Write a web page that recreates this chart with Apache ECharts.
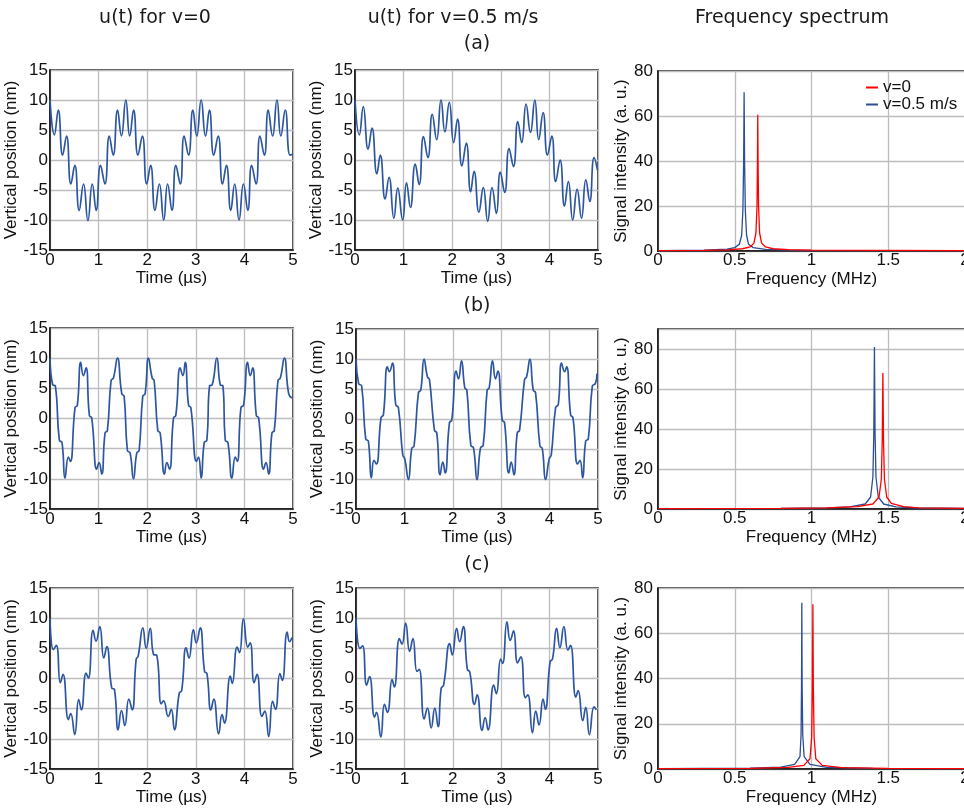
<!DOCTYPE html>
<html>
<head>
<meta charset="utf-8">
<script src="https://cdn.jsdelivr.net/npm/echarts@6/dist/echarts.min.js"></script>
<style>
  html, body { margin: 0; padding: 0; background: #fff; }
  #chart { width: 964px; height: 809px; }
</style>
</head>
<body>
<div id="chart"></div>
<script>
// ---- Displacement u(t) in nm, as [time (µs), u (nm)] at turning points of the trace ----
// Case (a)
const uA_still = [[0,10],[0.09,4.2],[0.17,8.3],[0.26,0.8],[0.34,4.0],[0.43,-4.0],[0.51,-0.9],[0.60,-8.4],[0.69,-4.0],[0.78,-10.1],[0.87,-4.0],[0.95,-8.4],[1.04,-0.9],[1.13,-4.0],[1.22,4.0],[1.30,0.8],[1.39,8.3],[1.47,4.0],[1.56,10],[1.64,4.0],[1.72,8.3],[1.81,0.8],[1.90,4.0],[1.99,-4.0],[2.07,-0.9],[2.16,-8.4],[2.25,-4.0],[2.34,-10],[2.42,-4.0],[2.51,-8.4],[2.59,-0.9],[2.68,-4.0],[2.76,4.0],[2.85,0.8],[2.94,8.3],[3.02,4.0],[3.11,10],[3.20,4.0],[3.28,8.3],[3.37,0.8],[3.46,4.0],[3.55,-4.0],[3.63,-0.9],[3.72,-8.4],[3.80,-4.0],[3.89,-10],[3.98,-4.0],[4.07,-8.4],[4.15,-0.9],[4.24,-4.0],[4.32,4.0],[4.41,0.8],[4.49,8.3],[4.58,4.0],[4.67,10],[4.75,4.0],[4.84,8.3],[4.94,0.8],[5.0,1.0]];
const uA_moving = [[0,10],[0.09,4.2],[0.17,8.9],[0.27,1.8],[0.35,5.3],[0.45,-2.3],[0.52,0.8],[0.62,-6.5],[0.70,-2.9],[0.80,-9.7],[0.88,-4.7],[0.98,-10],[1.06,-3.8],[1.14,-7.9],[1.24,-0.7],[1.32,-4.1],[1.41,3.9],[1.50,0.4],[1.59,7.6],[1.68,3.4],[1.77,10],[1.85,4.7],[1.94,9.6],[2.03,2.9],[2.11,6.8],[2.20,-1.0],[2.29,2.8],[2.38,-5.3],[2.45,-1.9],[2.55,-8.7],[2.64,-4.6],[2.73,-10.2],[2.82,-4.6],[2.91,-8.9],[2.99,-2.0],[3.08,-5.4],[3.17,1.9],[3.26,-1.1],[3.35,6.4],[3.43,2.9],[3.52,9.3],[3.61,4.6],[3.70,10],[3.78,3.4],[3.87,7.9],[3.96,0.8],[4.05,4.0],[4.13,-3.6],[4.22,0.0],[4.31,-7.7],[4.39,-3.6],[4.48,-10],[4.57,-4.9],[4.66,-9.7],[4.75,-3.3],[4.83,-6.9],[4.92,0.4],[4.99,-1.7]];
// Case (b)
const uB_still = [[0,10],[0.055,5.6],[0.11,5.4],[0.192,-3.6],[0.247,-4.0],[0.309,-9.9],[0.378,-6.4],[0.419,-7.1],[0.515,1.8],[0.563,2.2],[0.632,9.3],[0.687,7.1],[0.742,8.4],[0.81,0.5],[0.859,0.1],[0.962,-8.4],[1.01,-7.3],[1.065,-9.2],[1.133,-2.4],[1.181,-2.0],[1.257,6.3],[1.305,6.7],[1.387,10],[1.477,4.1],[1.525,3.7],[1.593,-5.3],[1.648,-5.7],[1.717,-10],[1.786,-5.7],[1.834,-5.3],[1.909,3.7],[1.957,4.1],[2.026,10],[2.102,6.7],[2.143,6.3],[2.218,-2.0],[2.266,-2.4],[2.356,-9.2],[2.404,-7.3],[2.459,-8.4],[2.541,0.1],[2.589,0.5],[2.679,8.4],[2.734,7.1],[2.782,9.3],[2.85,2.2],[2.898,1.8],[3.015,-7.1],[3.056,-6.4],[3.111,-9.9],[3.173,-4.0],[3.228,-3.6],[3.283,5.4],[3.338,5.6],[3.434,10],[3.503,5.6],[3.558,5.4],[3.606,-3.6],[3.661,-4.0],[3.743,-9.9],[3.812,-6.4],[3.853,-7.1],[3.929,1.8],[3.984,2.2],[4.066,9.3],[4.121,7.1],[4.169,8.4],[4.245,0.5],[4.293,0.1],[4.396,-8.4],[4.444,-7.3],[4.499,-9.2],[4.567,-2.4],[4.615,-2.0],[4.691,6.3],[4.739,6.7],[4.821,10],[4.911,4.1],[4.979,3.4]];
const uB_moving = [[0,10],[0.055,5.9],[0.117,5.5],[0.2,-3.3],[0.255,-3.7],[0.317,-9.8],[0.372,-6.9],[0.421,-7.5],[0.517,0.2],[0.566,0.7],[0.648,8.7],[0.69,7.9],[0.752,9.3],[0.821,2.4],[0.876,1.9],[0.966,-6.0],[1.007,-6.6],[1.083,-10.1],[1.152,-4.9],[1.2,-4.5],[1.29,4.4],[1.338,4.8],[1.407,10],[1.476,7.0],[1.517,6.6],[1.621,-1.9],[1.669,-2.3],[1.738,-9.3],[1.793,-7.2],[1.841,-9.0],[1.931,-0.6],[1.979,-0.2],[2.069,8.0],[2.117,6.7],[2.179,9.7],[2.248,5.2],[2.29,4.8],[2.372,-4.4],[2.428,-4.8],[2.5,-10.1],[2.572,-4.8],[2.628,-4.4],[2.71,4.8],[2.752,5.2],[2.821,9.7],[2.883,6.7],[2.931,8.0],[3.021,-0.2],[3.069,-0.6],[3.159,-9.0],[3.207,-7.2],[3.262,-9.3],[3.331,-2.3],[3.379,-1.9],[3.483,6.6],[3.524,7.0],[3.593,10],[3.662,4.8],[3.71,4.4],[3.8,-4.5],[3.848,-4.9],[3.917,-10.1],[3.993,-6.6],[4.034,-6.0],[4.124,1.9],[4.179,2.4],[4.248,9.3],[4.31,7.9],[4.352,8.7],[4.434,0.7],[4.483,0.2],[4.579,-7.5],[4.628,-6.9],[4.683,-9.8],[4.745,-3.7],[4.8,-3.3],[4.883,5.5],[4.945,5.9],[4.98,7.6]];
// Case (c)
const uC_still = [[0,10],[0.069,4.8],[0.131,5.5],[0.213,-0.7],[0.268,0.7],[0.378,-6.8],[0.426,-5.8],[0.509,-9.3],[0.591,-3.5],[0.646,-5.2],[0.742,0.9],[0.79,0.05],[0.887,8.0],[0.948,6.2],[1.024,8.6],[1.107,3.4],[1.168,5.3],[1.271,-1.6],[1.326,-1.8],[1.402,-8.5],[1.471,-5.3],[1.54,-7.8],[1.622,-3.4],[1.691,-5.2],[1.773,3.2],[1.814,3.7],[1.911,8.4],[1.979,5.0],[2.062,8.3],[2.131,4.0],[2.199,3.8],[2.289,-4.2],[2.337,-3.7],[2.433,-6.3],[2.495,-5.1],[2.56,-8.5],[2.66,-2.4],[2.71,-2.0],[2.80,5.1],[2.86,3.4],[2.95,8.1],[3.01,5.9],[3.09,8.4],[3.18,1.2],[3.23,0.8],[3.31,-5.2],[3.37,-3.4],[3.47,-9.2],[3.54,-6.0],[3.59,-7.4],[3.71,0.4],[3.75,-0.8],[3.85,5.2],[3.90,4.3],[3.98,9.9],[4.07,5.2],[4.12,5.9],[4.20,-0.7],[4.26,0.7],[4.36,-6.3],[4.42,-5.4],[4.50,-9.6],[4.58,-3.8],[4.64,-5.1],[4.73,0.8],[4.78,-0.3],[4.88,7.7],[4.93,6.1],[4.98,6.8]];
const uC_moving = [[0,10],[0.082,5.0],[0.137,5.4],[0.219,-1.1],[0.28,0.3],[0.383,-6.4],[0.424,-5.6],[0.513,-9.7],[0.588,-4.3],[0.65,-5.6],[0.746,-0.2],[0.793,-1.4],[0.896,6.6],[0.951,5.7],[1.026,9.2],[1.108,4.5],[1.176,6.6],[1.259,1.2],[1.306,1.5],[1.409,-6.7],[1.477,-4.9],[1.553,-8.2],[1.628,-4.9],[1.696,-8.0],[1.76,-1.6],[1.81,-1.1],[1.936,5.8],[1.99,3.9],[2.079,8.3],[2.141,6.1],[2.216,8.6],[2.30,1.5],[2.35,1.1],[2.449,-4.3],[2.503,-2.7],[2.606,-8.6],[2.668,-6.5],[2.729,-8.5],[2.845,-1.1],[2.90,-2.5],[2.989,3.2],[3.03,2.5],[3.119,9.4],[3.187,6.3],[3.256,7.9],[3.338,2.6],[3.406,3.6],[3.50,-3.2],[3.55,-2.7],[3.646,-9.0],[3.714,-5.4],[3.782,-7.7],[3.865,-3.4],[3.912,-5.1],[4.01,2.8],[4.06,3.2],[4.145,8.3],[4.213,5.1],[4.295,8.6],[4.378,4.7],[4.432,5.5],[4.542,-3.1],[4.59,-2.0],[4.685,-7.0],[4.747,-4.8],[4.822,-9.3],[4.918,-4.7],[4.966,-5.2]];

// ---- Spectra, as [frequency (MHz), intensity (a. u.)] ----
const specA_still = [[0,0.2],[0.3,0.3],[0.45,0.5],[0.55,1.0],[0.6,1.8],[0.625,3.5],[0.638,8],[0.645,20],[0.648,40],[0.65,60.5],[0.652,40],[0.655,20],[0.662,8],[0.675,3.5],[0.7,1.8],[0.75,1.0],[0.85,0.6],[1,0.4],[1.5,0.25],[2,0.2]];
const specA_moving = [[0,0.2],[0.3,0.35],[0.45,0.8],[0.5,1.5],[0.53,3],[0.545,7],[0.553,18],[0.558,40],[0.561,70.5],[0.564,40],[0.569,18],[0.577,7],[0.59,3],[0.62,1.5],[0.7,0.7],[0.85,0.4],[1,0.3],[1.5,0.2],[2,0.15]];
const specB_still = [[0,0.15],[0.8,0.3],[1.1,0.6],[1.3,1.2],[1.4,2.5],[1.44,6],[1.455,15],[1.461,35],[1.465,68],[1.469,35],[1.475,15],[1.49,6],[1.52,2.8],[1.6,1.2],[1.7,0.6],[2,0.3]];
const specB_moving = [[0,0.15],[0.8,0.3],[1.1,0.6],[1.25,1.1],[1.35,2.5],[1.385,6],[1.4,16],[1.406,38],[1.41,81],[1.414,38],[1.42,16],[1.435,6],[1.47,2.5],[1.55,1.1],[1.7,0.5],[2,0.25]];
const specC_still = [[0,0.15],[0.6,0.3],[0.85,0.7],[0.95,1.6],[0.99,4.5],[1.001,14],[1.006,36],[1.009,72.8],[1.012,36],[1.017,14],[1.028,4.5],[1.07,1.6],[1.2,0.6],[1.5,0.3],[2,0.2]];
const specC_moving = [[0,0.15],[0.6,0.35],[0.8,0.8],[0.89,2],[0.925,5.5],[0.932,15],[0.935,37],[0.937,73.5],[0.939,37],[0.943,15],[0.952,5.5],[0.99,2],[1.1,0.7],[1.4,0.3],[2,0.2]];

// ---- Axis ranges and texts ----
const timeRange = [0, 5, 1];
const posRange = [-15, 15, 5];
const freqRange = [0, 2, 0.5];
const intensityMax = [80, 90, 80];
const columnTitles = ['u(t) for v=0', 'u(t) for v=0.5 m/s', 'Frequency spectrum'];
const panelLetters = ['(a)', '(b)', '(c)'];
const seriesNames = ['v=0', 'v=0.5 m/s'];

const waveStill = [uA_still, uB_still, uC_still];
const waveMoving = [uA_moving, uB_moving, uC_moving];
const specStill = [specA_still, specB_still, specC_still];
const specMoving = [specA_moving, specB_moving, specC_moving];

// ---- Styling ----
const SANS = '"Liberation Sans", Arial, sans-serif';
const TITLE_FONT = '"DejaVu Sans", Verdana, sans-serif';
const INK = '#111';
const WAVE_BLUE = '#2d56a0';
const SPEC_BLUE = '#2b4e94';
const SPEC_RED = '#ff0000';
const GRID_GRAY = '#bdbdbd';

const panelBoxes = [
  [{left: 50, top: 70, width: 243, height: 180}, {left: 355, top: 70, width: 243, height: 180}, {left: 658, top: 71, width: 307, height: 180}],
  [{left: 50, top: 328, width: 243, height: 181}, {left: 356, top: 329, width: 242, height: 180}, {left: 658, top: 329, width: 307, height: 180}],
  [{left: 50, top: 588, width: 243, height: 181}, {left: 356, top: 588, width: 242, height: 181}, {left: 658, top: 588, width: 307, height: 181}]
];

const grid = [], xAxis = [], yAxis = [], series = [];
const labelStyle = {fontFamily: SANS, fontSize: 17, color: INK};

function addPanel(box, kind, row) {
  const idx = grid.length;
  grid.push(Object.assign({
    show: true, borderColor: INK, borderWidth: 1.5, backgroundColor: 'transparent',
    containLabel: false, outerBoundsMode: 'none'
  }, box));
  const isWave = kind === 'wave';
  const xr = isWave ? timeRange : freqRange;
  xAxis.push({
    gridIndex: idx, type: 'value', min: xr[0], max: xr[1], interval: xr[2],
    name: isWave ? 'Time (µs)' : 'Frequency (MHz)',
    nameLocation: 'middle', nameGap: 20, nameTextStyle: labelStyle,
    axisLine: {show: true, onZero: false, lineStyle: {color: INK, width: 1.5}},
    axisTick: {show: false},
    axisLabel: Object.assign({margin: isWave ? 2 : 1, hideOverlap: false}, labelStyle),
    splitLine: {show: true, lineStyle: {color: GRID_GRAY, width: 1.3}}
  });
  const ymax = isWave ? posRange[1] : intensityMax[row];
  yAxis.push({
    gridIndex: idx, type: 'value',
    min: isWave ? posRange[0] : 0, max: ymax, interval: isWave ? posRange[2] : 20,
    name: isWave ? 'Vertical position (nm)' : 'Signal intensity (a. u.)',
    nameLocation: 'middle', nameGap: isWave ? 24 : 23, nameTextStyle: labelStyle,
    axisLine: {show: true, onZero: false, lineStyle: {color: INK, width: 1.5}},
    axisTick: {show: false},
    axisLabel: Object.assign({
      margin: isWave ? 2 : 5, hideOverlap: false,
      formatter: v => (!isWave && v > 80) ? '' : String(v)
    }, labelStyle),
    splitLine: {show: true, lineStyle: {color: GRID_GRAY, width: 1.3}}
  });
  return idx;
}

for (let r = 0; r < 3; r++) {
  const g0 = addPanel(panelBoxes[r][0], 'wave', r);
  series.push({
    type: 'line', xAxisIndex: g0, yAxisIndex: g0, data: waveStill[r],
    showSymbol: false, smooth: 0.5, color: WAVE_BLUE,
    lineStyle: {color: WAVE_BLUE, width: 1.7}, silent: true
  });
  const g1 = addPanel(panelBoxes[r][1], 'wave', r);
  series.push({
    type: 'line', xAxisIndex: g1, yAxisIndex: g1, data: waveMoving[r],
    showSymbol: false, smooth: 0.5, color: WAVE_BLUE,
    lineStyle: {color: WAVE_BLUE, width: 1.7}, silent: true
  });
  const g2 = addPanel(panelBoxes[r][2], 'spec', r);
  series.push({
    name: seriesNames[1], type: 'line', xAxisIndex: g2, yAxisIndex: g2, data: specMoving[r],
    showSymbol: false, smooth: false, color: SPEC_BLUE,
    lineStyle: {color: SPEC_BLUE, width: 1.3}, silent: true
  });
  series.push({
    name: seriesNames[0], type: 'line', xAxisIndex: g2, yAxisIndex: g2, data: specStill[r],
    showSymbol: false, smooth: false, color: SPEC_RED,
    lineStyle: {color: SPEC_RED, width: 1.3}, silent: true
  });
}

function headText(text, x, y) {
  return {
    type: 'text', x: x, y: y, silent: true, z: 10,
    style: {text: text, fill: '#1a1a1a', font: '19px ' + TITLE_FONT, textAlign: 'center', textVerticalAlign: 'middle'}
  };
}

const graphic = [
  headText(columnTitles[0], 155, 18),
  headText(columnTitles[1], 453, 18),
  headText(columnTitles[2], 792, 18),
  headText(panelLetters[0], 477, 44),
  headText(panelLetters[1], 477, 306),
  headText(panelLetters[2], 477, 565)
];

const chart = echarts.init(document.getElementById('chart'), null, {renderer: 'canvas'});
chart.setOption({
  animation: false,
  backgroundColor: '#fff',
  grid: grid, xAxis: xAxis, yAxis: yAxis, series: series, graphic: graphic,
  legend: {
    data: seriesNames, orient: 'vertical', left: 866, top: 79, padding: 0,
    itemWidth: 12, itemHeight: 2, itemGap: 0, icon: 'rect', selectedMode: false,
    textStyle: {fontFamily: SANS, fontSize: 17, color: INK, lineHeight: 16}
  }
});
</script>
</body>
</html>
